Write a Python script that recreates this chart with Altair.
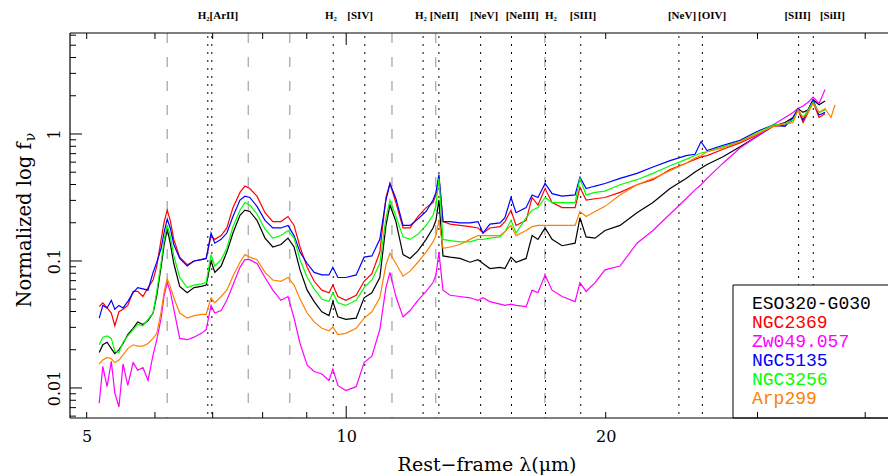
import altair as alt
import pandas as pd

# ---------------- data (log10 of normalized f_nu) ----------------
lam = [5.17,5.22,5.28,5.34,5.39,5.45,5.51,5.58,5.66,5.73,
       5.81,5.89,5.97,6.03,6.10,6.15,6.20,6.25,6.31,6.41,
       6.54,6.66,6.79,6.88,6.97,7.04,7.16,7.27,7.39,7.53,
       7.63,7.73,7.88,8.05,8.22,8.40,8.56,8.70,8.84,9.01,
       9.18,9.37,9.55,9.65,9.78,9.99,10.27,10.49,10.71,10.94,
       11.12,11.24,11.42,11.64,11.86,12.11,12.38,12.61,12.71,12.81,
       12.95,13.20,13.55,13.92,14.22,14.41,14.68,15.08,15.28,15.53,
       15.74,16.17,16.43,16.69,17.01,17.33,17.80,18.43,18.67,18.98,
       19.44,19.96,20.78,21.74,22.69,23.75,24.79,25.39,25.80,26.22,
       27.36,28.63,29.96,31.27,32.29,32.99,33.43,33.88,34.34,34.80,
       35.36,35.93,36.51,36.90]

eso320 = [-1.72,-1.66,-1.64,-1.69,-1.73,-1.70,-1.65,-1.58,-1.53,-1.48,
          -1.50,-1.47,-1.41,-1.27,-1.04,-0.87,-0.75,-0.86,-1.02,-1.20,
          -1.25,-1.21,-1.20,-1.19,-1.00,-1.09,-1.04,-0.93,-0.78,-0.64,
          -0.60,-0.61,-0.68,-0.82,-0.89,-0.87,-0.82,-0.89,-1.07,-1.23,
          -1.32,-1.40,-1.43,-1.32,-1.44,-1.46,-1.45,-1.29,-1.25,-1.13,
          -0.72,-0.56,-0.69,-0.95,-0.98,-0.92,-0.83,-0.74,-0.68,-0.52,
          -0.96,-0.97,-0.98,-1.01,-0.99,-1.02,-1.06,-1.05,-1.06,-0.97,
          -1.01,-0.98,-0.80,-0.83,-0.74,-0.83,-0.88,-0.86,-0.66,-0.81,
          -0.82,-0.76,-0.72,-0.62,-0.54,-0.43,-0.35,-0.30,-0.27,-0.24,
          -0.18,-0.10,-0.02,0.06,0.09,0.13,0.20,0.17,0.19,0.27,
          0.23,0.26,None,None]

ngc2369 = [-1.36,-1.33,-1.37,-1.41,-1.51,-1.40,-1.38,-1.35,-1.24,-1.24,
           -1.28,-1.21,-1.15,-1.04,-0.83,-0.69,-0.60,-0.68,-0.83,-0.97,
           -1.03,-1.00,-0.99,-0.98,-0.80,-0.83,-0.80,-0.74,-0.58,-0.46,
           -0.41,-0.43,-0.49,-0.62,-0.69,-0.69,-0.65,-0.72,-0.89,-1.05,
           -1.16,-1.23,-1.25,-1.19,-1.28,-1.31,-1.27,-1.16,-1.10,-0.93,
           -0.50,-0.39,-0.54,-0.74,-0.74,-0.65,-0.58,-0.54,-0.48,-0.34,
           -0.69,-0.71,-0.72,-0.73,-0.74,-0.78,-0.74,-0.73,-0.69,-0.60,
           -0.72,-0.68,-0.50,-0.56,-0.43,-0.54,-0.58,-0.58,-0.42,-0.52,
           -0.51,-0.50,-0.46,-0.40,-0.36,-0.28,-0.23,-0.20,-0.18,-0.17,
           -0.12,-0.07,-0.01,0.06,0.07,0.11,0.19,0.09,0.17,0.25,
           0.13,0.16,None,None]

zw049 = [-2.12,-1.83,-1.99,-1.79,-2.04,-2.15,-1.81,-1.98,-1.80,-1.86,
         -1.84,-1.94,-1.74,-1.62,-1.45,-1.27,-1.17,-1.24,-1.38,-1.61,
         -1.62,-1.60,-1.57,-1.54,-1.35,-1.41,-1.39,-1.31,-1.19,-1.05,
         -0.99,-0.99,-1.02,-1.13,-1.23,-1.31,-1.28,-1.45,-1.65,-1.82,
         -1.87,-1.89,-1.94,-1.85,-1.98,-2.02,-1.99,-1.80,-1.75,-1.54,
         -1.21,-1.09,-1.28,-1.44,-1.39,-1.31,-1.24,-1.17,-1.11,-0.93,
         -1.23,-1.27,-1.28,-1.29,-1.31,-1.29,-1.32,-1.34,-1.35,-1.34,
         -1.35,-1.36,-1.23,-1.25,-1.11,-1.23,-1.28,-1.32,-1.17,-1.24,
         -1.17,-1.07,-1.04,-0.86,-0.76,-0.63,-0.51,-0.44,-0.40,-0.35,
         -0.23,-0.11,-0.02,0.07,0.13,0.17,0.20,0.22,0.25,0.29,
         0.24,0.35,None,None]

ngc5135 = [-1.45,-1.35,-1.37,-1.31,-1.38,-1.35,-1.37,-1.32,-1.25,-1.21,
           -1.22,-1.23,-1.09,-1.01,-0.90,-0.77,-0.67,-0.74,-0.87,-0.98,
           -1.04,-1.00,-0.99,-0.98,-0.78,-0.86,-0.83,-0.78,-0.65,-0.52,
           -0.49,-0.50,-0.57,-0.68,-0.74,-0.74,-0.72,-0.80,-0.93,-1.02,
           -1.09,-1.11,-1.11,-1.05,-1.13,-1.13,-1.11,-0.97,-0.96,-0.83,
           -0.52,-0.39,-0.51,-0.72,-0.72,-0.67,-0.61,-0.52,-0.46,-0.32,
           -0.69,-0.69,-0.70,-0.70,-0.69,-0.78,-0.71,-0.70,-0.66,-0.50,
           -0.62,-0.58,-0.48,-0.50,-0.39,-0.47,-0.49,-0.48,-0.34,-0.43,
           -0.41,-0.39,-0.35,-0.31,-0.26,-0.21,-0.17,-0.16,-0.06,-0.13,
           -0.09,-0.05,0.02,0.07,0.06,0.13,0.20,0.11,0.19,0.27,
           0.15,0.17,None,None]

ngc3256 = [-1.66,-1.60,-1.59,-1.61,-1.71,-1.72,-1.64,-1.59,-1.54,-1.50,
           -1.51,-1.46,-1.41,-1.24,-1.01,-0.83,-0.72,-0.80,-0.96,-1.13,
           -1.21,-1.19,-1.18,-1.17,-0.95,-1.04,-0.99,-0.90,-0.73,-0.60,
           -0.54,-0.56,-0.63,-0.75,-0.82,-0.80,-0.76,-0.82,-0.99,-1.13,
           -1.22,-1.30,-1.32,-1.25,-1.33,-1.35,-1.31,-1.21,-1.15,-1.02,
           -0.66,-0.52,-0.65,-0.81,-0.83,-0.79,-0.72,-0.64,-0.56,-0.35,
           -0.83,-0.84,-0.85,-0.85,-0.83,-0.83,-0.82,-0.81,-0.77,-0.68,
           -0.78,-0.66,-0.60,-0.58,-0.50,-0.54,-0.54,-0.54,-0.35,-0.48,
           -0.46,-0.45,-0.40,-0.36,-0.31,-0.25,-0.20,-0.17,-0.15,-0.14,
           -0.10,-0.06,0.01,0.07,0.08,0.11,0.19,0.13,0.19,0.25,
           0.17,0.19,None,None]

arp299 = [-1.81,-1.78,-1.76,-1.77,-1.80,-1.78,-1.74,-1.69,-1.66,-1.67,
          -1.67,-1.65,-1.61,-1.57,-1.40,-1.24,-1.14,-1.20,-1.29,-1.41,
          -1.45,-1.43,-1.42,-1.42,-1.29,-1.33,-1.28,-1.23,-1.12,-1.01,
          -0.95,-0.97,-0.99,-1.09,-1.15,-1.16,-1.13,-1.19,-1.30,-1.41,
          -1.48,-1.53,-1.55,-1.52,-1.58,-1.57,-1.53,-1.45,-1.40,-1.29,
          -1.03,-0.94,-1.02,-1.12,-1.08,-1.01,-0.93,-0.85,-0.80,-0.68,
          -0.90,-0.89,-0.87,-0.83,-0.80,-0.80,-0.80,-0.80,-0.77,-0.72,
          -0.80,-0.76,-0.73,-0.72,-0.72,-0.72,-0.72,-0.72,-0.61,-0.65,
          -0.61,-0.57,-0.48,-0.40,-0.35,-0.29,-0.23,-0.19,-0.17,-0.14,
          -0.11,-0.06,0.00,0.06,0.08,0.09,0.19,0.13,0.17,0.24,
          0.17,0.20,0.13,0.23]

names = ["ESO320-G030", "NGC2369", "Zw049.057", "NGC5135", "NGC3256", "Arp299"]
colors = ["#000000", "#ff0000", "#ff00ff", "#0000ff", "#00ff00", "#ff8000"]
series = [eso320, ngc2369, zw049, ngc5135, ngc3256, arp299]

# emission lines (dotted) and PAH features (grey dashed)
line_lam = [6.91, 6.985, 9.66, 10.51, 12.28, 12.81, 14.32, 15.55, 17.03, 18.71,
            24.32, 25.89, 33.48, 34.82]
pah_lam = [6.2, 7.7, 8.6, 11.3, 12.7, 17.0]

top_labels = ["H₂[ArII]", "H₂", "[SIV]", "H₂", "[NeII]", "[NeV]", "[NeIII]",
              "H₂", "[SIII]", "[NeV]", "[OIV]", "[SIII]", "[SiII]"]
top_label_lam = [7.10, 9.60, 10.38, 12.21, 12.99, 14.45, 16.0, 17.28, 18.82,
                 24.52, 26.57, 33.39, 36.65]

x_minor = [5, 6, 7, 8, 9, 20, 30, 40]
x_major = [10]
y_minor = [0.006, 0.007, 0.008, 0.009, 0.02, 0.03, 0.04, 0.05, 0.06, 0.07,
           0.08, 0.09, 0.2, 0.3, 0.4, 0.5, 0.6, 0.7, 0.8, 0.9, 2, 3, 4, 5, 6]
y_major = [0.01, 0.1, 1]

for s in series:
    assert len(s) == len(lam)

rows = []
for name, vals in zip(names, series):
    for l, v in zip(lam, vals):
        if v is not None:
            rows.append({"lam": l, "f": 10 ** v, "name": name})
df = pd.DataFrame(rows)

# ---------------- layout ----------------
W, H = 818, 385
SERIF = "DejaVu Serif"
xs = alt.Scale(type="log", domain=[4.782, 42.51], nice=False)
ys = alt.Scale(type="log", domain=[0.0058, 6.24], nice=False)
XAX = alt.Axis(values=[5, 10, 20], format="~g", domain=False, ticks=False,
               grid=False, labelFont=SERIF, labelFontSize=16,
               labelColor="#000", labelPadding=10, title=None)
YAX = alt.Axis(values=[0.01, 0.1, 1], format="~g", domain=False, ticks=False,
               grid=False, labelFont=SERIF, labelFontSize=16,
               labelColor="#000", labelAngle=270, labelAlign="center",
               labelBaseline="bottom", labelPadding=8, title=None)
one = pd.DataFrame({"a": [0]})


def X(field="lam:Q"):
    return alt.X(field, scale=xs, axis=XAX)


def Y(field="f:Q"):
    return alt.Y(field, scale=ys, axis=YAX)


pah = alt.Chart(pd.DataFrame({"lam": pah_lam})).mark_rule(
    color="#b4b4b4", strokeWidth=1.5, strokeDash=[10, 14]
).encode(x=X(), y=alt.value(0), y2=alt.value(H))

dots = alt.Chart(pd.DataFrame({"lam": line_lam})).mark_rule(
    color="#000000", strokeWidth=1, strokeDash=[2, 6]
).encode(x=X(), y=alt.value(3), y2=alt.value(H))

lines = alt.Chart(df).mark_line(strokeWidth=1.2, clip=True).encode(
    x=X(), y=Y(),
    color=alt.Color("name:N", scale=alt.Scale(domain=names, range=colors), legend=None),
    order=alt.Order("lam:Q"),
)

legend_box = alt.Chart(one).mark_rect(fill="white", stroke="black", strokeWidth=1).encode(
    x=alt.value(663), x2=alt.value(860), y=alt.value(252), y2=alt.value(H)
)

frame = [
    alt.Chart(one).mark_rule(color="black", strokeWidth=1.2).encode(
        x=alt.value(0), x2=alt.value(W), y=alt.value(0)),
    alt.Chart(one).mark_rule(color="black", strokeWidth=1.2).encode(
        x=alt.value(0), x2=alt.value(W), y=alt.value(H)),
    alt.Chart(one).mark_rule(color="black", strokeWidth=1.2).encode(
        x=alt.value(0), y=alt.value(0), y2=alt.value(H)),
]


def xticks(vals, length):
    d = pd.DataFrame({"lam": vals})
    bot = alt.Chart(d).mark_rule(color="black", strokeWidth=1).encode(
        x=X(), y=alt.value(H), y2=alt.value(H - length))
    top = alt.Chart(d).mark_rule(color="black", strokeWidth=1).encode(
        x=X(), y=alt.value(0), y2=alt.value(length))
    return [bot, top]


def yticks(vals, length):
    d = pd.DataFrame({"f": vals})
    return [alt.Chart(d).mark_rule(color="black", strokeWidth=1).encode(
        y=Y(), x=alt.value(0), x2=alt.value(length))]


ticks = xticks(x_minor, 6) + xticks(x_major, 12) + yticks(y_minor, 6) + yticks(y_major, 12)

labels = alt.Chart(pd.DataFrame({"lam": top_label_lam, "t": top_labels})).mark_text(
    font="Liberation Serif", fontWeight="bold", fontSize=11, baseline="middle",
    align="center", color="black"
).encode(x=X(), y=alt.value(-17), text="t:N")

legend_texts = []
for i, (nm, c) in enumerate(zip(names, colors)):
    legend_texts.append(
        alt.Chart(one).mark_text(font="Liberation Mono", fontSize=18, align="left",
                                 baseline="middle", color=c, text=nm)
        .encode(x=alt.value(682), y=alt.value(271 + 19 * i))
    )

ytitle = alt.Chart(one).mark_text(
    font=SERIF, fontSize=19.5, angle=270, align="center", baseline="alphabetic",
    color="black", text="Normalized log f"
).encode(x=alt.value(-39), y=alt.value(192))
ytitle_sub = alt.Chart(one).mark_text(
    font=SERIF, fontSize=14, angle=270, align="center", baseline="alphabetic",
    color="black", text="ν"
).encode(x=alt.value(-35), y=alt.value(104))
xtitle = alt.Chart(one).mark_text(
    font=SERIF, fontSize=19, align="center", baseline="middle",
    color="black", text="Rest−frame λ(μm)"
).encode(x=alt.value(417), y=alt.value(432))

chart = alt.layer(
    pah, dots, lines, legend_box, *frame, *ticks, labels, *legend_texts,
    ytitle, ytitle_sub, xtitle
).properties(
    width=W, height=H,
    autosize=alt.AutoSizeParams(type="none"),
    padding={"left": 62, "top": 25, "right": 0, "bottom": 58},
    background="white",
).configure_view(stroke=None)

chart.save("out.html", embed_options={"renderer": "svg", "actions": False})
